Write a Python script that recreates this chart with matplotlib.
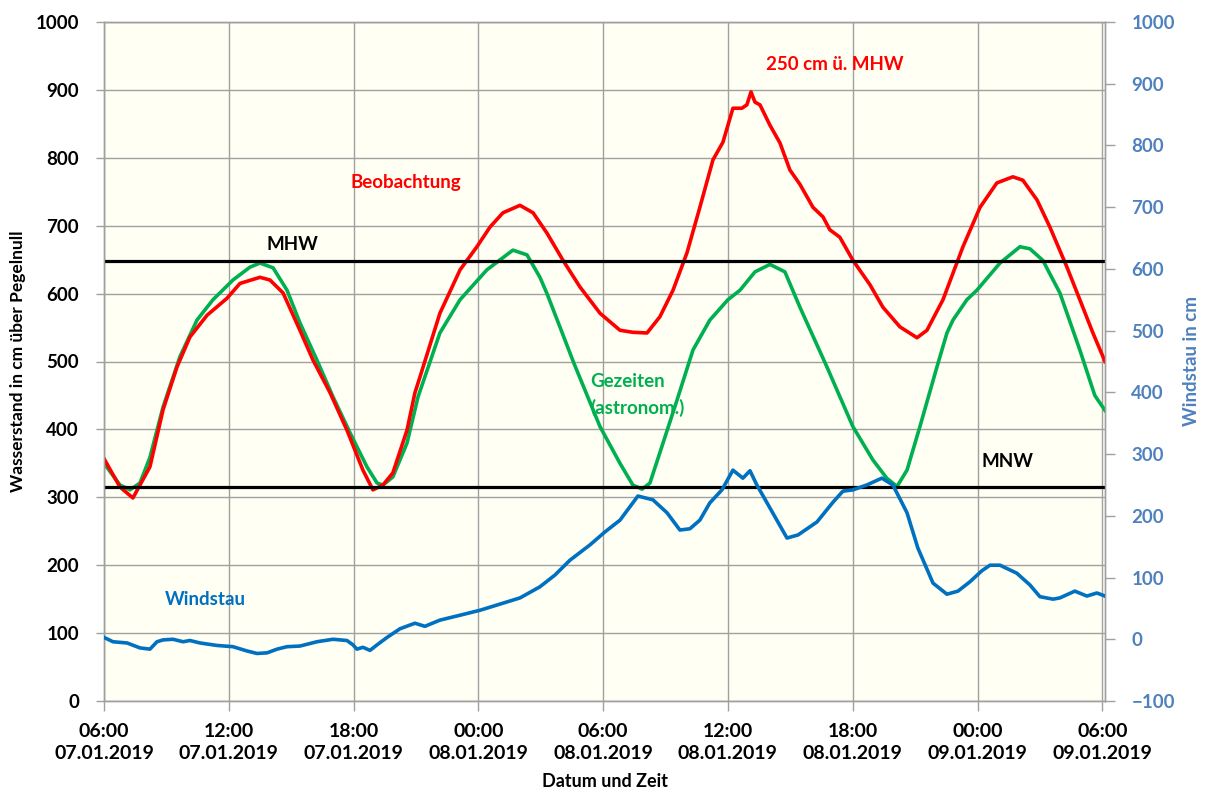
import matplotlib
matplotlib.use("Agg")
import matplotlib.pyplot as plt

plt.rcParams['font.family'] = ['Lato', 'DejaVu Sans']
plt.rcParams['font.weight'] = 'bold'
plt.rcParams['axes.labelweight'] = 'bold'

# hours since 06:00 07.01.2019
beob_t = [0.0, 0.77, 1.39, 2.21, 2.84, 3.51, 4.13, 4.95, 5.91, 6.54, 7.50, 7.98, 8.61, 9.42,
          10.05, 10.87, 11.68, 12.45, 12.93, 13.41, 13.89, 14.57, 14.95, 15.19, 16.15, 17.12,
          17.93, 18.56, 19.18, 20.0, 20.63, 21.30, 22.07, 22.88, 23.85, 24.81, 25.43, 26.11,
          26.73, 27.36, 28.03, 28.65, 29.28, 29.76, 30.24, 30.67, 30.91, 31.11, 31.30, 31.54,
          32.02, 32.50, 32.98, 33.46, 34.09, 34.57, 34.90, 35.38, 36.01, 36.83, 37.45, 38.27,
          39.09, 39.57, 40.34, 41.30, 42.12, 42.93, 43.70, 44.18, 44.86, 45.48, 46.30, 46.92,
          47.55, 48.13]
beob = [357, 315, 299, 345, 429, 492, 536, 568, 593, 615, 624, 620, 601, 546,
        502, 454, 399, 340, 311, 318, 336, 399, 454, 477, 571, 635,
        669, 698, 719, 730, 719, 689, 649, 610, 571, 546, 543, 542,
        566, 605, 660, 727, 797, 823, 873, 873, 878, 897, 882, 878,
        848, 822, 782, 761, 727, 713, 694, 683, 649, 613, 580, 551,
        535, 546, 591, 669, 727, 763, 772, 767, 738, 698, 639, 591,
        542, 500]

gez_t = [0.0, 0.77, 1.25, 1.73, 2.21, 2.84, 3.65, 4.47, 5.24, 6.20, 7.02, 7.50, 8.13, 8.80,
         9.42, 10.24, 11.01, 11.83, 12.64, 13.13, 13.41, 13.89, 14.57, 15.10, 16.15, 17.12,
         18.41, 19.66, 20.34, 20.96, 21.30, 21.92, 22.60, 23.85, 24.81, 25.43, 25.87, 26.25,
         26.88, 27.55, 28.32, 29.13, 30.0, 30.58, 31.30, 32.02, 32.74, 33.46, 34.76, 36.01,
         36.97, 37.64, 38.13, 38.61, 39.23, 40.05, 40.53, 40.82, 41.49, 41.97, 43.08, 44.04,
         44.52, 45.14, 45.96, 46.92, 47.64, 48.13]
gez = [350, 318, 311, 321, 359, 433, 507, 561, 591, 620, 639, 645, 638, 605,
       557, 502, 448, 395, 345, 321, 318, 330, 380, 448, 542, 591,
       635, 664, 657, 624, 600, 551, 497, 404, 350, 318, 312, 321,
       380, 443, 517, 561, 591, 605, 632, 643, 632, 580, 492, 404,
       355, 328, 316, 340, 404, 492, 542, 561, 591, 605, 645, 669,
       666, 649, 601, 517, 450, 428]

wind_t = [0.0, 0.43, 1.11, 1.73, 2.21, 2.55, 2.84, 3.32, 3.80, 4.13, 4.62, 5.43, 6.20, 6.88,
          7.36, 7.84, 8.32, 8.80, 9.42, 10.24, 11.01, 11.68, 11.97, 12.16, 12.45, 12.79, 13.13,
          13.61, 14.23, 14.95, 15.43, 16.15, 17.12, 18.08, 19.04, 20.0, 20.96, 21.68, 22.40,
          23.37, 24.09, 24.81, 25.67, 26.39, 27.07, 27.69, 28.17, 28.65, 29.13, 29.71, 30.24,
          30.72, 31.06, 31.39, 31.88, 32.84, 33.37, 34.28, 35.05, 35.53, 36.01, 36.68, 37.40,
          37.93, 38.61, 39.13, 39.86, 40.53, 41.06, 41.63, 42.21, 42.60, 43.08, 43.89, 44.52,
          45.0, 45.63, 45.96, 46.68, 47.26, 47.74, 48.13]
wind = [3, -4, -6, -14, -16, -4, -1, 0, -4, -2, -6, -10, -12, -19,
        -23, -22, -16, -12, -11, -4, 0, -2, -9, -16, -13, -18, -9,
        3, 17, 26, 21, 31, 39, 47, 57, 67, 85, 104, 128,
        153, 174, 193, 232, 226, 205, 177, 179, 193, 221, 242, 274,
        261, 273, 250, 221, 164, 169, 190, 222, 240, 242, 250, 261,
        250, 205, 148, 91, 73, 78, 93, 111, 120, 120, 107, 88,
        69, 65, 67, 78, 70, 75, 70]

mhw = 648
mnw = 315

x_ticks = [0, 6, 12, 18, 24, 30, 36, 42, 48]
x_labels = ['06:00\n07.01.2019', '12:00\n07.01.2019', '18:00\n07.01.2019',
            '00:00\n08.01.2019', '06:00\n08.01.2019', '12:00\n08.01.2019',
            '18:00\n08.01.2019', '00:00\n09.01.2019', '06:00\n09.01.2019']

grey = '#A0A0A0'
blue_axis = '#4F81BD'

fig = plt.figure(figsize=(12.06, 7.94), dpi=100)
ax = fig.add_axes([104 / 1206, 93 / 794, 1001 / 1206, 679 / 794])
ax.set_facecolor('#FFFFF4')

ax.plot(gez_t, gez, color='#00B050', lw=2.6, zorder=3)
ax.plot(beob_t, beob, color='#FF0000', lw=2.6, zorder=4)
ax.axhline(mhw, color='black', lw=2.3, zorder=5)
ax.axhline(mnw, color='black', lw=2.3, zorder=5)

ax.set_xlim(0, 48.13)
ax.set_ylim(0, 1000)
ax.set_yticks(range(0, 1001, 100))
ax.set_xticks(x_ticks)
ax.set_xticklabels(x_labels, fontsize=14, fontweight='bold', linespacing=1.35)
ax.tick_params(axis='y', labelsize=13.5, direction='out', length=6, width=1, color=grey, pad=12)
ax.tick_params(axis='x', direction='out', length=7, width=1, color=grey, pad=9)
ax.grid(True, color=grey, lw=1)
ax.set_axisbelow(True)
for s in ax.spines.values():
    s.set_color(grey)
    s.set_linewidth(1)

ax.set_ylabel('Wasserstand in cm über Pegelnull', fontsize=12.5, fontweight='bold', labelpad=7)
ax.set_xlabel('Datum und Zeit', fontsize=13, fontweight='bold', labelpad=8)

txt = dict(fontsize=13.5, fontweight='bold', va='center')
ax.text(9.04, 673, 'MHW', ha='center', color='black', **txt)
ax.text(43.46, 352, 'MNW', ha='center', color='black', **txt)
ax.text(11.83, 763, 'Beobachtung', ha='left', color='#FF0000', **txt)
ax.text(35.14, 937, '250 cm ü. MHW', ha='center', color='#FF0000', **txt)
ax.text(23.37, 470, 'Gezeiten', ha='left', color='#00B050', **txt)
ax.text(23.37, 431, '(astronom.)', ha='left', color='#00B050', **txt)
ax.text(2.93, 150, 'Windstau', ha='left', color='#0070C0', **txt)

ax2 = ax.twinx()
ax2.plot(wind_t, wind, color='#0070C0', lw=2.6, zorder=6)
ax2.set_ylim(-100, 1000)
ax2.set_yticks(range(-100, 1001, 100))
ax2.tick_params(axis='y', labelsize=13.5, labelcolor=blue_axis, direction='out',
                length=7, width=1, color=grey, pad=12)
ax2.set_ylabel('Windstau in cm', fontsize=13.5, fontweight='bold', color=blue_axis, labelpad=6)
for s in ax2.spines.values():
    s.set_color(grey)
    s.set_linewidth(1)

fig.savefig('out.png', dpi=100, facecolor='white')
